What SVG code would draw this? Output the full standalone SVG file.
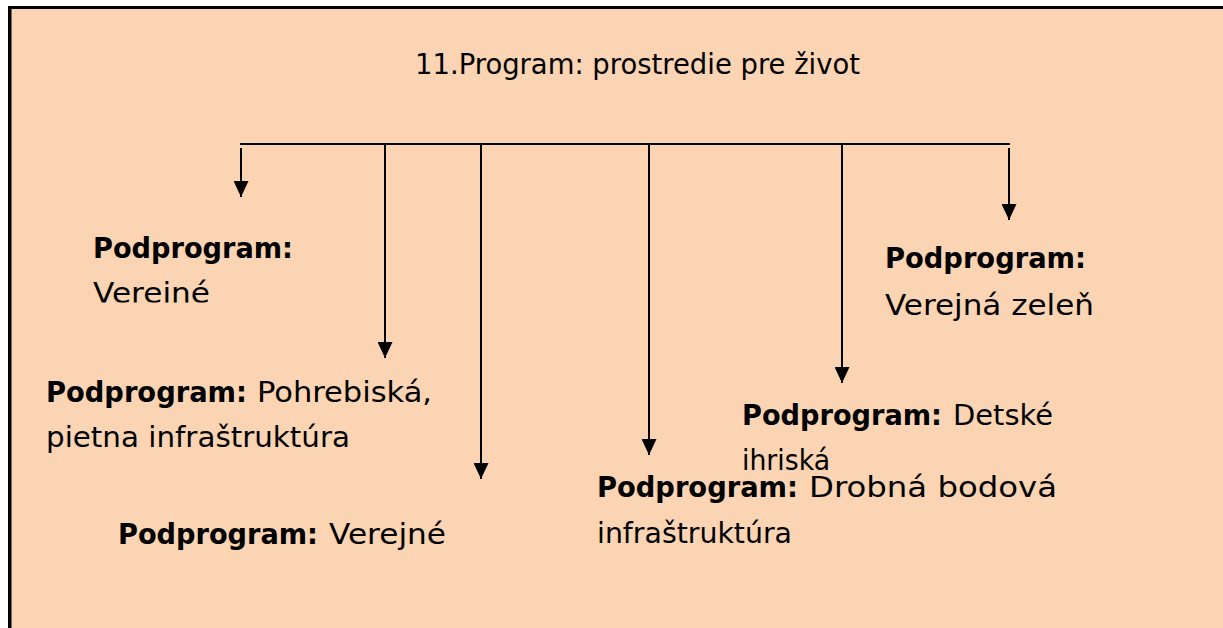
<svg xmlns="http://www.w3.org/2000/svg" width="1223" height="628" viewBox="0 0 1223 628">
<style>
  .t { font-family: "DejaVu Sans", "Liberation Sans", sans-serif; font-size: 29px; fill: #000; }
  .b { font-weight: bold; }
  .ln { stroke: #000; stroke-width: 2; fill: none; }
</style>
<defs>
  <marker id="ah" viewBox="0 0 16 15" refX="16" refY="7.5" markerWidth="16" markerHeight="15" markerUnits="userSpaceOnUse" orient="auto">
    <path d="M0,0 L16,7.5 L0,15 z" fill="#000"/>
  </marker>
  <clipPath id="clipVer"><rect x="80" y="200" width="300" height="102.5"/></clipPath>
  <clipPath id="clipIhr"><rect x="730" y="380" width="400" height="90.5"/></clipPath>
</defs>
<rect x="0" y="0" width="1223" height="628" fill="#fff"/>
<rect x="10" y="8" width="1213" height="620" fill="#FBD4B4"/>
<rect x="8" y="6" width="1215" height="3" fill="#000"/>
<rect x="8" y="6" width="3.5" height="622" fill="#000"/>

<g id="title">
  <text class="t" x="415" y="74" textLength="445" lengthAdjust="spacingAndGlyphs">11.Program: prostredie pre život</text>
</g>

<g id="connectors">
  <line class="ln" x1="240" y1="144" x2="1010" y2="144"/>
  <line class="ln" x1="241" y1="148" x2="241" y2="197" marker-end="url(#ah)"/>
  <line class="ln" x1="385" y1="144" x2="385" y2="358" marker-end="url(#ah)"/>
  <line class="ln" x1="481" y1="144" x2="481" y2="479" marker-end="url(#ah)"/>
  <line class="ln" x1="649" y1="144" x2="649" y2="455" marker-end="url(#ah)"/>
  <line class="ln" x1="842" y1="144" x2="842" y2="383" marker-end="url(#ah)"/>
  <line class="ln" x1="1009" y1="148" x2="1009" y2="220" marker-end="url(#ah)"/>
</g>

<g id="node-verejne1">
  <text class="t b" x="93" y="258" textLength="200" lengthAdjust="spacingAndGlyphs">Podprogram:</text>
  <text class="t" x="93" y="303" textLength="117" lengthAdjust="spacingAndGlyphs" clip-path="url(#clipVer)">Vereiné</text>
</g>

<g id="node-pohrebiska">
  <text class="t b" x="46" y="402" textLength="201" lengthAdjust="spacingAndGlyphs">Podprogram:</text>
  <text class="t" x="257" y="402" textLength="175" lengthAdjust="spacingAndGlyphs">Pohrebiská,</text>
  <text class="t" x="46" y="447" textLength="304" lengthAdjust="spacingAndGlyphs">pietna infraštruktúra</text>
</g>

<g id="node-verejne2">
  <text class="t b" x="118" y="544" textLength="200" lengthAdjust="spacingAndGlyphs">Podprogram:</text>
  <text class="t" x="329" y="544" textLength="117" lengthAdjust="spacingAndGlyphs">Verejné</text>
</g>

<g id="node-detske">
  <text class="t b" x="742" y="425" textLength="200" lengthAdjust="spacingAndGlyphs">Podprogram:</text>
  <text class="t" x="953" y="425" textLength="100" lengthAdjust="spacingAndGlyphs">Detské</text>
  <text class="t" x="742" y="470" textLength="88" lengthAdjust="spacingAndGlyphs" clip-path="url(#clipIhr)">ihriská</text>
</g>

<g id="node-drobna">
  <text class="t b" x="597" y="497" textLength="201" lengthAdjust="spacingAndGlyphs">Podprogram:</text>
  <text class="t" x="809" y="497" textLength="248" lengthAdjust="spacingAndGlyphs">Drobná bodová</text>
  <text class="t" x="597" y="543" textLength="195" lengthAdjust="spacingAndGlyphs">infraštruktúra</text>
</g>

<g id="node-zelen">
  <text class="t b" x="885" y="268" textLength="201" lengthAdjust="spacingAndGlyphs">Podprogram:</text>
  <text class="t" x="885" y="315" textLength="209" lengthAdjust="spacingAndGlyphs">Verejná zeleň</text>
</g>
</svg>
